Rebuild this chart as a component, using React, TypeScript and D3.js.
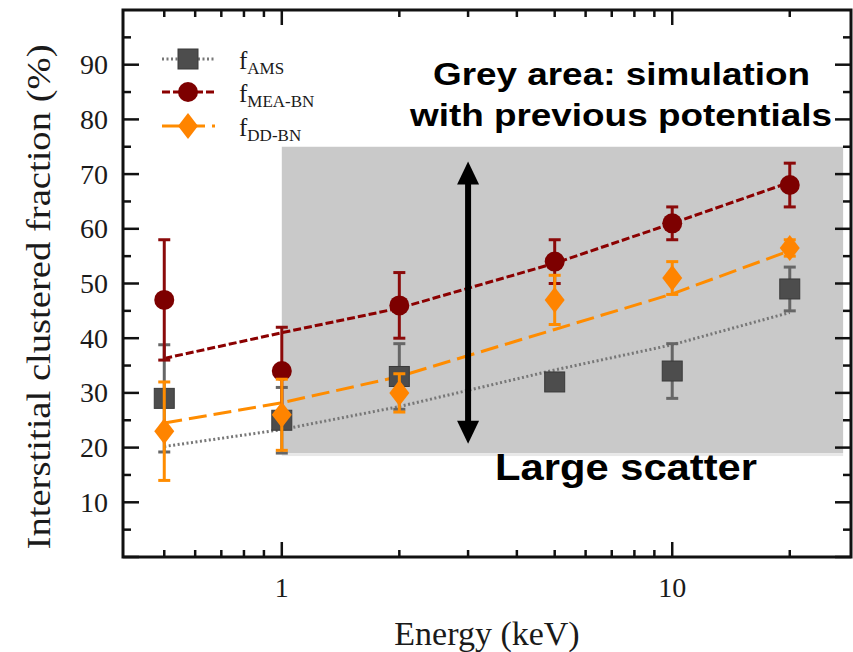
import React from 'react';
import * as d3 from 'd3';

// energies (keV) where the simulations were run
const energies = [0.5, 1, 2, 5, 10, 20];

// clustered fractions (%) and their error bars
const amsValues = [29, 25, 33, 32, 34, 49];
const amsErrors = [9.8, 6, 6, 1.5, 5, 4];
const meaValues = [47, 34, 46, 54, 61, 68];
const meaErrors = [11, 8, 6, 4, 3, 4];
const ddValues = [23, 26, 30, 47, 51, 56.5];
const ddErrors = [9, 6.5, 3.5, 4.5, 3, 1.5];

// fitted trend curves, read at the same energies
const amsFit = [20.2, 23.3, 27.5, 34.2, 38.8, 44.7];
const meaFit = [36.3, 41, 45.5, 53.7, 61, 68.5];
const ddFit = [24.5, 28.2, 33, 41.6, 48.1, 56];

const yTicks = [10, 20, 30, 40, 50, 60, 70, 80, 90];
const yMinorTicks = [0, 5, 10, 15, 20, 25, 30, 35, 40, 45, 50, 55, 60, 65, 70, 75, 80, 85, 90, 95];
const xTicks = [1, 10];
const xMinorTicks = [0.5, 0.6, 0.7, 0.8, 0.9, 2, 3, 4, 5, 6, 7, 8, 9, 20];

// grey region (previous potentials) and the scatter arrow
const greyArea = { x0: 1, x1: 27.4, y0: 19, y1: 75 };
const arrowSpan = { x: 3, y0: 72.3, y1: 20.7 };

const W = 853;
const H = 652;
const left = 123, right = 851, top = 10, bottom = 557;

const x = d3.scaleLog().domain([0.392, 28.7]).range([left, right]);
const y = d3.scaleLinear().domain([0, 100]).range([bottom, top]);

const serif = '"Liberation Serif", "Times New Roman", serif';
const sans = '"Liberation Sans", Arial, sans-serif';

const series = [
  { name: 'AMS', values: amsValues, errors: amsErrors, fit: amsFit, color: '#4d4d4d', bar: '#666', line: '#777', dash: '2,2.5', marker: 'square' },
  { name: 'MEA-BN', values: meaValues, errors: meaErrors, fit: meaFit, color: '#7d0000', bar: '#8b0a0a', line: '#8b0000', dash: '8,3', marker: 'circle' },
  { name: 'DD-BN', values: ddValues, errors: ddErrors, fit: ddFit, color: '#ff8400', bar: '#ff8c00', line: '#ff8c00', dash: '18,7', marker: 'diamond' },
];

function Marker({ kind, cx, cy, color }: { kind: string; cx: number; cy: number; color: string }) {
  if (kind === 'square') return <rect x={cx - 10} y={cy - 10} width={20} height={20} fill={color} stroke="#3a3a3a" strokeWidth={1} />;
  if (kind === 'circle') return <circle cx={cx} cy={cy} r={10} fill={color} />;
  return <path d={`M${cx},${cy - 13} L${cx + 10},${cy} L${cx},${cy + 13} L${cx - 10},${cy} Z`} fill={color} />;
}

export default function App() {
  const line = d3.line<number>().x((_, i) => x(energies[i])).y(d => y(d));
  const ax = x(arrowSpan.x);
  const ayTop = y(arrowSpan.y0);
  const ayBot = y(arrowSpan.y1);
  const head = 23;
  const half = 11;

  return (
    <svg width={W} height={H} style={{ position: 'absolute', left: 0, top: 0, background: '#fff' }}>
      {/* grey area */}
      <rect
        x={x(greyArea.x0)}
        y={y(greyArea.y1)}
        width={x(greyArea.x1) - x(greyArea.x0)}
        height={y(greyArea.y0) - y(greyArea.y1)}
        fill="#c9c9c9"
      />
      <rect x={x(greyArea.x0)} y={y(greyArea.y0)} width={x(greyArea.x1) - x(greyArea.x0)} height={3} fill="#e8e8e8" />

      {/* fit curves */}
      {series.map(s => (
        <path key={s.name + '-fit'} d={line(s.fit) || ''} fill="none" stroke={s.line} strokeWidth={3} strokeDasharray={s.dash} />
      ))}

      {/* error bars and markers */}
      {series.map(s => (
        <g key={s.name}>
          {energies.map((e, i) => {
            const cx = x(e);
            const hi = y(s.values[i] + s.errors[i]);
            const lo = y(s.values[i] - s.errors[i]);
            return (
              <g key={i} stroke={s.bar} strokeWidth={3}>
                <line x1={cx} x2={cx} y1={hi} y2={lo} />
                <line x1={cx - 6} x2={cx + 6} y1={hi} y2={hi} />
                <line x1={cx - 6} x2={cx + 6} y1={lo} y2={lo} />
              </g>
            );
          })}
          {energies.map((e, i) => (
            <Marker key={'m' + i} kind={s.marker} cx={x(e)} cy={y(s.values[i])} color={s.color} />
          ))}
        </g>
      ))}

      {/* double arrow */}
      <line x1={ax} x2={ax} y1={ayTop + head - 2} y2={ayBot - head + 2} stroke="#000" strokeWidth={6} />
      <path d={`M${ax},${ayTop} L${ax + half},${ayTop + head} L${ax - half},${ayTop + head} Z`} fill="#000" />
      <path d={`M${ax},${ayBot} L${ax + half},${ayBot - head} L${ax - half},${ayBot - head} Z`} fill="#000" />

      {/* annotations */}
      <g fontFamily={sans} fontWeight="bold" fill="#000" textAnchor="middle">
        <text x={621.5} y={85} fontSize={32} textLength={377} lengthAdjust="spacingAndGlyphs">Grey area: simulation</text>
        <text x={621} y={126} fontSize={32} textLength={422} lengthAdjust="spacingAndGlyphs">with previous potentials</text>
        <text x={626} y={480} fontSize={37} textLength={262} lengthAdjust="spacingAndGlyphs">Large scatter</text>
      </g>

      {/* frame */}
      <rect x={left} y={top} width={right - left} height={bottom - top} fill="none" stroke="#111" strokeWidth={3} />

      {/* ticks on all four sides, pointing inward */}
      <g stroke="#111" strokeWidth={2.5}>
        {xTicks.map(t => (
          <g key={'xt' + t}>
            <line x1={x(t)} x2={x(t)} y1={bottom} y2={bottom - 15} />
            <line x1={x(t)} x2={x(t)} y1={top} y2={top + 15} />
          </g>
        ))}
        {xMinorTicks.map(t => (
          <g key={'xm' + t}>
            <line x1={x(t)} x2={x(t)} y1={bottom} y2={bottom - 7} />
            <line x1={x(t)} x2={x(t)} y1={top} y2={top + 7} />
          </g>
        ))}
        {yMinorTicks.map(t => {
          const major = t % 10 === 0;
          const len = major ? 16 : 8;
          return (
            <g key={'yt' + t}>
              <line x1={left} x2={left + len} y1={y(t)} y2={y(t)} />
              <line x1={right} x2={right - len} y1={y(t)} y2={y(t)} />
            </g>
          );
        })}
      </g>

      {/* tick labels */}
      <g fontFamily={serif} fontSize={28} fill="#1a1a1a">
        {yTicks.map(t => (
          <text key={'yl' + t} x={108} y={y(t) + 9.5} textAnchor="end">{t}</text>
        ))}
        {xTicks.map(t => (
          <text key={'xl' + t} x={x(t)} y={597} textAnchor="middle">{t}</text>
        ))}
      </g>

      {/* axis titles */}
      <text x={487} y={645} fontFamily={serif} fontSize={34} textAnchor="middle" fill="#1a1a1a">Energy (keV)</text>
      <text
        transform={`translate(50,${297}) rotate(-90)`}
        fontFamily={serif}
        fontSize={34}
        textAnchor="middle"
        fill="#1a1a1a"
        textLength={505}
        lengthAdjust="spacingAndGlyphs"
      >
        Interstitial clustered fraction (%)
      </text>

      {/* legend */}
      {series.map((s, i) => {
        const ly = [59, 92, 126][i];
        return (
          <g key={'lg' + s.name}>
            <line x1={162} x2={215} y1={ly} y2={ly} stroke={s.line} strokeWidth={3} strokeDasharray={s.dash} />
            <Marker kind={s.marker} cx={188} cy={ly} color={s.color} />
            <text x={239} y={ly + 10} fontFamily={serif} fontSize={25} fill="#1a1a1a">
              f<tspan fontSize={17} dy={5}>{s.name}</tspan>
            </text>
          </g>
        );
      })}
    </svg>
  );
}
